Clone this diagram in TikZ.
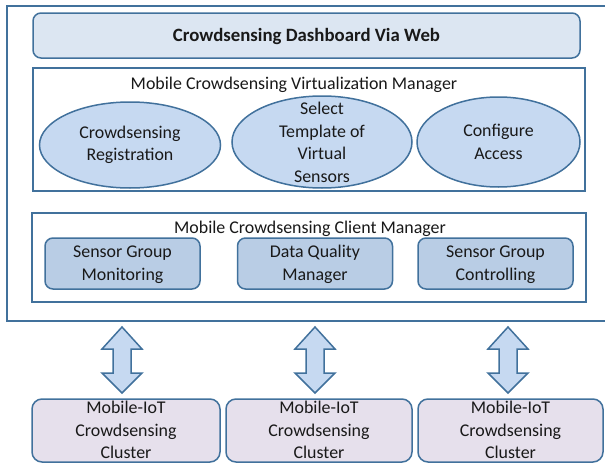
\documentclass[tikz,border=0pt]{standalone}
\usepackage{fontspec}
\setmainfont{Carlito}
\usetikzlibrary{shapes.geometric}
\definecolor{edge}{HTML}{41719C}
\definecolor{dashfill}{HTML}{DCE6F2}
\definecolor{ellfill}{HTML}{C6D9F1}
\definecolor{boxfill}{HTML}{B9CDE5}
\definecolor{clfill}{HTML}{E6E0EC}
\begin{document}
\begin{tikzpicture}[x=1pt,y=-1pt,
  txt/.style={font=\fontsize{17.9}{22.6}\selectfont,align=center,inner sep=0pt,text=black!90},
  dashbox/.style={draw=edge,line width=1.5pt,fill=dashfill,rounded corners=8pt,minimum width=547pt,minimum height=45pt,inner sep=0pt},
  frame/.style={draw=edge,line width=1.5pt,fill=white,inner sep=0pt},
  ell/.style={draw=edge,line width=1.5pt,fill=ellfill,ellipse,inner sep=0pt},
  grpbox/.style={draw=edge,line width=1.5pt,fill=boxfill,rounded corners=8pt,minimum width=155pt,minimum height=51pt,inner sep=0pt},
  clbox/.style={draw=edge,line width=1.5pt,fill=clfill,rounded corners=10pt,minimum height=63pt,inner sep=0pt},
  dbl/.style={draw=edge,line width=1.5pt,fill=ellfill,line join=miter}
]
\useasboundingbox (0,0) rectangle (605,463);
\clip (0,0) rectangle (605,463);
% outer frame (right side beyond the page)
\draw[edge,line width=2pt] (620,6) -- (7,6) -- (7,321) -- (620,321);

\node[dashbox] (dash) at (306.5,35.5) {};
\node[txt,font=\fontsize{18.8}{22.8}\selectfont\bfseries] (dasht) at (306.5,36) {Crowdsensing Dashboard Via Web};

\node[frame,minimum width=552pt,minimum height=123pt] (virt) at (309,129.5) {};
\node[txt] (virtt) at (294,85) {Mobile Crowdsensing Virtualization Manager};
\node[ell,minimum width=181pt,minimum height=86pt] (e1) at (130,145) {};
\node[txt] at (130,145) {Crowdsensing\\Registration};
\node[ell,minimum width=180pt,minimum height=92pt] (e2) at (322,142) {};
\node[txt] at (322,142.5) {Select\\Template of\\Virtual\\Sensors};
\node[ell,minimum width=163pt,minimum height=90pt] (e3) at (498.5,142) {};
\node[txt] at (498.5,142) {Configure\\Access};

\node[frame,minimum width=554pt,minimum height=89pt] (client) at (309,257.5) {};
\node[txt] (clientt) at (310,229) {Mobile Crowdsensing Client Manager};
\node[grpbox] (g1) at (122.5,263.5) {};
\node[txt] at (122.5,264.5) {Sensor Group\\Monitoring};
\node[grpbox] (g2) at (315,263.5) {};
\node[txt] at (315,264.5) {Data Quality\\Manager};
\node[grpbox] (g3) at (495.5,263.5) {};
\node[txt] at (495.5,264.5) {Sensor Group\\Controlling};

\node[clbox,minimum width=188pt] (c1) at (126,430.5) {};
\node[txt] at (126,430) {Mobile-IoT\\Crowdsensing\\Cluster};
\node[clbox,minimum width=186pt] (c2) at (319,430.5) {};
\node[txt] at (319,430) {Mobile-IoT\\Crowdsensing\\Cluster};
\node[clbox,minimum width=185pt] (c3) at (510.5,430.5) {};
\node[txt] at (510.5,430) {Mobile-IoT\\Crowdsensing\\Cluster};

\foreach \c/\n in {122/a1,315/a2,508/a3}{
  \coordinate (\n) at (\c,360);
  \draw[dbl] ([shift={(0,-33)}]\n) -- ([shift={(20,-11)}]\n) -- ([shift={(9,-11)}]\n) -- ([shift={(9,13)}]\n)
    -- ([shift={(20,13)}]\n) -- ([shift={(0,33)}]\n) -- ([shift={(-20,13)}]\n) -- ([shift={(-9,13)}]\n)
    -- ([shift={(-9,-11)}]\n) -- ([shift={(-20,-11)}]\n) -- cycle;
}
\end{tikzpicture}
\end{document}
